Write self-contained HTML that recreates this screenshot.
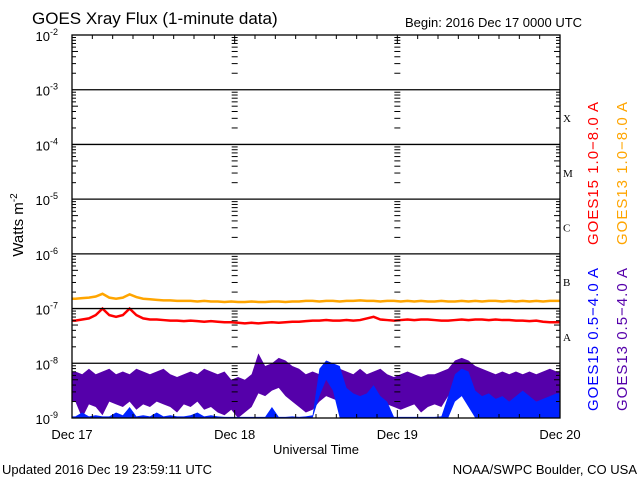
<!DOCTYPE html>
<html><head><meta charset="utf-8"><style>
html,body{margin:0;padding:0;background:#fff;}
svg{display:block;font-family:"Liberation Sans",sans-serif;}
</style></head><body>
<svg id="chart" width="640" height="480" viewBox="0 0 640 480" xmlns="http://www.w3.org/2000/svg">
<rect x="0" y="0" width="640" height="480" fill="#fff"/>
<text x="32" y="24" font-size="17" fill="#000">GOES Xray Flux (1-minute data)</text>
<text x="405" y="27" font-size="13" fill="#000">Begin:  2016 Dec 17 0000 UTC</text>
<g id="plot"></g>
<text transform="translate(23,225) rotate(-90)" text-anchor="middle" font-size="15" fill="#000">Watts m<tspan dy="-6" font-size="10">-2</tspan></text>
<text x="316" y="454" text-anchor="middle" font-size="13" fill="#000">Universal Time</text>
<text x="2" y="474" font-size="13" fill="#000">Updated 2016 Dec 19 23:59:11 UTC</text>
<text x="637" y="474" text-anchor="end" font-size="13" fill="#000">NOAA/SWPC Boulder, CO USA</text>
<text transform="translate(598,173) rotate(-90)" text-anchor="middle" font-size="15" letter-spacing="1" fill="#ff0000">GOES15 1.0−8.0 A</text>
<text transform="translate(627,173) rotate(-90)" text-anchor="middle" font-size="15" letter-spacing="1" fill="#ffa500">GOES13 1.0−8.0 A</text>
<text transform="translate(598,339) rotate(-90)" text-anchor="middle" font-size="15" letter-spacing="1" fill="#0000ff">GOES15 0.5−4.0 A</text>
<text transform="translate(627,339) rotate(-90)" text-anchor="middle" font-size="15" letter-spacing="1" fill="#5500aa">GOES13 0.5−4.0 A</text>
</svg>
<script>
const dayLabels = ["Dec 17","Dec 18","Dec 19","Dec 20"];
const decadeExps = [-2,-3,-4,-5,-6,-7,-8,-9];
const flareClasses = ["X","M","C","B","A"];
const orangeLog = [-6.82,-6.81,-6.80,-6.78,-6.73,-6.80,-6.82,-6.80,-6.74,-6.79,-6.82,-6.83,-6.84,-6.85,-6.85,-6.86,-6.86,-6.86,-6.87,-6.86,-6.87,-6.87,-6.88,-6.87,-6.88,-6.88,-6.87,-6.88,-6.88,-6.87,-6.87,-6.88,-6.87,-6.87,-6.86,-6.86,-6.87,-6.86,-6.86,-6.87,-6.86,-6.86,-6.85,-6.86,-6.86,-6.87,-6.86,-6.86,-6.87,-6.86,-6.87,-6.86,-6.87,-6.87,-6.86,-6.87,-6.87,-6.86,-6.87,-6.86,-6.87,-6.86,-6.86,-6.87,-6.86,-6.87,-6.86,-6.87,-6.86,-6.87,-6.86,-6.86];
const redLog = [-7.22,-7.2,-7.18,-7.12,-7.0,-7.12,-7.15,-7.12,-7.0,-7.12,-7.18,-7.2,-7.2,-7.21,-7.22,-7.22,-7.23,-7.22,-7.23,-7.24,-7.23,-7.24,-7.25,-7.25,-7.26,-7.27,-7.26,-7.27,-7.26,-7.25,-7.26,-7.25,-7.24,-7.24,-7.23,-7.22,-7.22,-7.21,-7.22,-7.22,-7.21,-7.22,-7.21,-7.18,-7.15,-7.2,-7.21,-7.22,-7.21,-7.2,-7.21,-7.2,-7.2,-7.21,-7.22,-7.22,-7.21,-7.2,-7.21,-7.2,-7.2,-7.21,-7.2,-7.21,-7.21,-7.22,-7.22,-7.23,-7.22,-7.24,-7.25,-7.25];
const purpleHi = [-8.15,-8.2,-8.1,-8.2,-8.15,-8.1,-8.2,-8.15,-8.2,-8.1,-8.15,-8.2,-8.15,-8.1,-8.2,-8.25,-8.2,-8.15,-8.2,-8.1,-8.15,-8.2,-8.15,-8.3,-8.25,-8.3,-8.2,-7.82,-8.05,-8.0,-7.9,-7.95,-8.05,-8.1,-8.2,-8.15,-8.2,-8.05,-8.1,-8.1,-8.15,-8.2,-8.1,-8.2,-8.15,-8.1,-8.2,-8.25,-8.2,-8.15,-8.2,-8.25,-8.2,-8.2,-8.15,-8.1,-7.95,-7.9,-7.95,-8.05,-8.1,-8.15,-8.2,-8.15,-8.2,-8.15,-8.2,-8.15,-8.2,-8.15,-8.1,-8.15];
const purpleLo = [-8.7,-9.0,-8.75,-8.8,-8.95,-8.7,-8.75,-8.8,-8.7,-8.85,-8.75,-8.8,-8.7,-8.75,-8.8,-8.9,-8.75,-8.8,-8.7,-8.85,-8.8,-8.9,-8.95,-8.85,-9.0,-8.9,-8.8,-8.55,-8.6,-8.5,-8.45,-8.6,-8.7,-8.8,-8.9,-8.85,-8.7,-8.6,-8.65,-8.7,-8.75,-8.8,-8.7,-8.75,-8.8,-8.9,-8.75,-8.8,-8.85,-8.8,-8.75,-8.9,-8.8,-8.75,-8.8,-8.6,-8.5,-8.45,-8.5,-8.6,-8.7,-8.75,-8.8,-8.75,-8.8,-8.85,-8.75,-8.8,-8.7,-8.75,-8.8,-8.7];
const blueHi = [-8.97,-8.9,-8.97,-8.95,-8.97,-8.97,-8.9,-8.95,-8.8,-8.97,-8.95,-8.97,-8.9,-8.97,-8.95,-8.97,-8.97,-8.95,-8.9,-8.97,-8.95,-8.97,-8.98,-8.98,-8.98,-8.98,-8.98,-8.98,-8.98,-8.8,-8.98,-8.98,-8.97,-8.98,-8.97,-8.95,-8.1,-7.95,-8.0,-8.05,-8.45,-8.55,-8.6,-8.55,-8.4,-8.6,-8.7,-8.98,-8.98,-8.98,-8.98,-8.98,-8.98,-8.98,-8.97,-8.6,-8.2,-8.1,-8.15,-8.5,-8.6,-8.55,-8.65,-8.6,-8.7,-8.6,-8.5,-8.6,-8.7,-8.65,-8.6,-8.55];
const blueLo = [-9,-9,-9,-9,-9,-9,-9,-9,-9,-9,-9,-9,-9,-9,-9,-9,-9,-9,-9,-9,-9,-9,-9,-9,-9,-9,-9,-9,-9,-9,-9,-9,-9,-9,-9,-9,-8.6,-8.3,-8.5,-9,-9,-9,-9,-9,-9,-9,-9,-9,-9,-9,-9,-9,-9,-9,-9,-9,-8.7,-8.6,-8.8,-9,-9,-9,-9,-9,-9,-9,-9,-9,-9,-9,-9,-9];

const NS="http://www.w3.org/2000/svg";
const L=72,R=560,T=35,B=418;
const xScale=h=>L+(R-L)*h/72;
const yScale=v=>Math.min(B,T+(-2-v)*(B-T)/7);
const plot=document.getElementById('plot');
function mk(tag,attrs,parent){const e=document.createElementNS(NS,tag);for(const k in attrs)e.setAttribute(k,attrs[k]);(parent||plot).appendChild(e);return e;}

function band(hi,lo,color,name){
  let pts=[];
  const n=hi.length;
  pts.push(xScale(0)+','+yScale(hi[0]));
  hi.forEach((v,i)=>{pts.push(xScale(i+0.5)+','+yScale(v));});
  pts.push(xScale(n)+','+yScale(hi[n-1]));
  pts.push(xScale(n)+','+yScale(lo[n-1]));
  for(let i=n-1;i>=0;i--){pts.push(xScale(i+0.5)+','+yScale(lo[i]));}
  pts.push(xScale(0)+','+yScale(lo[0]));
  const p=mk('polygon',{points:pts.join(' '),fill:color});
  
  
}
function line(vals,color,name){
  const pts=vals.map((v,i)=>xScale(i+0.5)+','+yScale(v));
  pts.unshift(xScale(0)+','+yScale(vals[0]));
  pts.push(xScale(vals.length)+','+yScale(vals[vals.length-1]));
  const p=mk('polyline',{points:pts.join(' '),fill:'none',stroke:color,'stroke-width':2.5});
  
  
}
band(purpleHi,purpleLo,'#5500aa','goes13-short-series');
band(blueHi,blueLo,'#0022ff','goes15-short-series');
line(orangeLog,'#ffa500','goes13-long-series');
line(redLog,'#ff0000','goes15-long-series');

decadeExps.forEach(e=>{
  const y=yScale(e);
  if(e<-2&&e>-9){const g=mk('line',{x1:L,x2:R,y1:y,y2:y,stroke:'#000','stroke-width':1.3});
    
    }
  const t=mk('text',{x:58,y:y+6,'text-anchor':'end','font-size':13,fill:'#000'});
  t.textContent='10';
  const s=mk('tspan',{dy:-6,'font-size':9},t);s.textContent=String(e);
  
  
  if(e>-9){for(let m=2;m<=9;m++){
    const yy=yScale(e-1+Math.log10(m));
    const len=(m===5?6:4);
    mk('line',{x1:L,x2:L+len,y1:yy,y2:yy,stroke:'#000'});
    mk('line',{x1:R,x2:R-len,y1:yy,y2:yy,stroke:'#000'});
    [1,2].forEach(d=>{mk('line',{x1:xScale(24*d)-3,x2:xScale(24*d)+3,y1:yy,y2:yy,stroke:'#000'});});
  }}
});
const fr=mk('rect',{x:L,y:T,width:R-L,height:B-T,fill:'none',stroke:'#000','stroke-width':1.3});


for(let h=0;h<=72;h+=3){
  const x=xScale(h);const len=(h%24===0)?8:4;
  mk('line',{x1:x,x2:x,y1:T,y2:T+len,stroke:'#000'});
  mk('line',{x1:x,x2:x,y1:B,y2:B-len,stroke:'#000'});
}
dayLabels.forEach((d,i)=>{
  const t=mk('text',{x:xScale(24*i),y:439,'text-anchor':'middle','font-size':13,fill:'#000'});
  t.textContent=d;
  
  
});
flareClasses.forEach((c,i)=>{
  const t=mk('text',{x:563,y:yScale(-3.5-i)+5,'font-size':11,'font-family':'Liberation Serif, serif',fill:'#000'});
  t.textContent=c;
  
  
});
</script>
</body></html>
